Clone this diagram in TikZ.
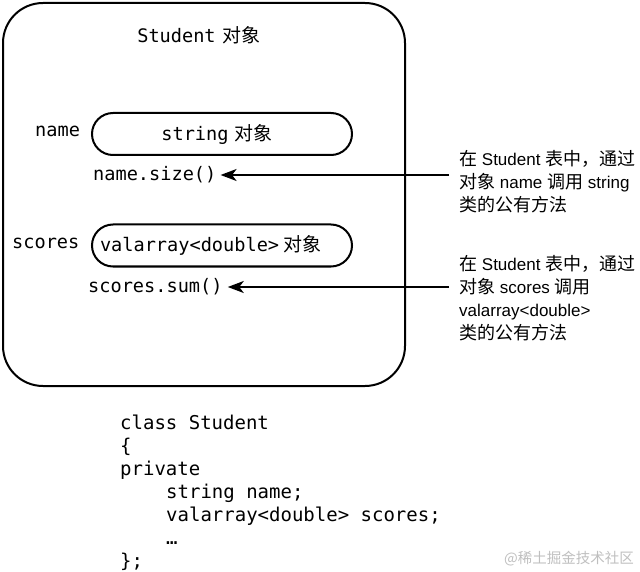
\documentclass[tikz,border=0pt]{standalone}
\usepackage{fontspec}
\setmainfont{Liberation Sans}
\newfontfamily\zhfont{Noto Sans CJK SC}
\newfontfamily\monofont{DejaVu Sans Mono}
\usetikzlibrary{arrows.meta}
\newcommand\zhm[1]{{\zhfont\fontsize{19}{22}\selectfont #1}}
\newcommand\zhr[1]{{\zhfont\fontsize{18}{22}\selectfont #1}}
\newcommand\zhw[1]{{\zhfont\fontsize{14.5}{18}\selectfont #1}}
\begin{document}
\begin{tikzpicture}[x=1pt,y=-1pt,
  outerbox/.style={draw, line width=2pt, rounded corners=40pt, minimum width=402pt, minimum height=383pt, inner sep=0pt},
  pill/.style={draw, line width=2pt, rounded corners=21pt, minimum width=260pt, minimum height=42pt, inner xsep=8pt, inner ysep=0pt, font=\monofont\fontsize{18.6}{22}\selectfont},
  monot/.style={font=\monofont\fontsize{18.6}{22}\selectfont, inner sep=0pt},
  codeline/.style={font=\monofont\fontsize{19}{23}\selectfont, anchor=base west, inner sep=0pt},
  rtext/.style={font=\fontsize{17}{22}\selectfont, anchor=base west, inner sep=0pt},
  arr/.style={line width=1.9pt, -{Stealth[length=16pt, width=12pt, inset=4.5pt]}}
]
\useasboundingbox (0,0) rectangle (640,572);

% outer object box
\node[outerbox] (obj) at (204,194.5) {};
\node[monot, anchor=base] (title) at (199,43) {Student\kern7pt\zhm{对象}};

% members
\node[monot, anchor=base west] (namelbl) at (35,137) {name};
\node[pill] (strobj) at (222,134) {\hspace*{-10pt}string\kern6pt\zhm{对象}};
\node[monot, anchor=base west, inner xsep=4pt] (namesize) at (89,181) {name.size()};

\node[monot, anchor=base west] (scoreslbl) at (12,248) {scores};
\node[pill, text width=244pt, align=left] (valobj) at (222,245.5) {valarray<double>\kern4pt\zhm{对象}};
\node[monot, anchor=base west, inner xsep=5pt] (scoressum) at (83,292) {scores.sum()};

% right explanations
\node[rtext] (r1a) at (459,166) {\zhr{在} Student \zhr{表中，通过}};
\node[rtext] (r1b) at (459,189) {\zhr{对象} name \zhr{调用} string};
\node[rtext] (r1c) at (459,211.5) {\zhr{类的公有方法}};

\node[rtext] (r2a) at (459,270) {\zhr{在} Student \zhr{表中，通过}};
\node[rtext] (r2b) at (459,293) {\zhr{对象} scores \zhr{调用}};
\node[rtext] (r2c) at (459,316) {valarray<double>};
\node[rtext] (r2d) at (459,339) {\zhr{类的公有方法}};

% arrows
\coordinate (a1) at (449,175);
\coordinate (a2) at (449,287);
\draw[arr] (a1) -- (a1 -| namesize.east);
\draw[arr] (a2) -- (a2 -| scoressum.east);

% class code
\node[codeline] (c1) at (120,429) {class Student};
\node[codeline] (c2) at (120,452) {\{};
\node[codeline] (c3) at (120,475) {private};
\node[codeline] (c4) at (166,498) {string name;};
\node[codeline] (c5) at (166,521) {valarray<double> scores;};
\node[codeline] (c6) at (166,544) {…};
\node[codeline] (c7) at (120,567) {\};};

% watermark
\node[anchor=base east, inner sep=0pt, text=black!25] (wm) at (634,563) {\zhw{@稀土掘金技术社区}};
\end{tikzpicture}
\end{document}
